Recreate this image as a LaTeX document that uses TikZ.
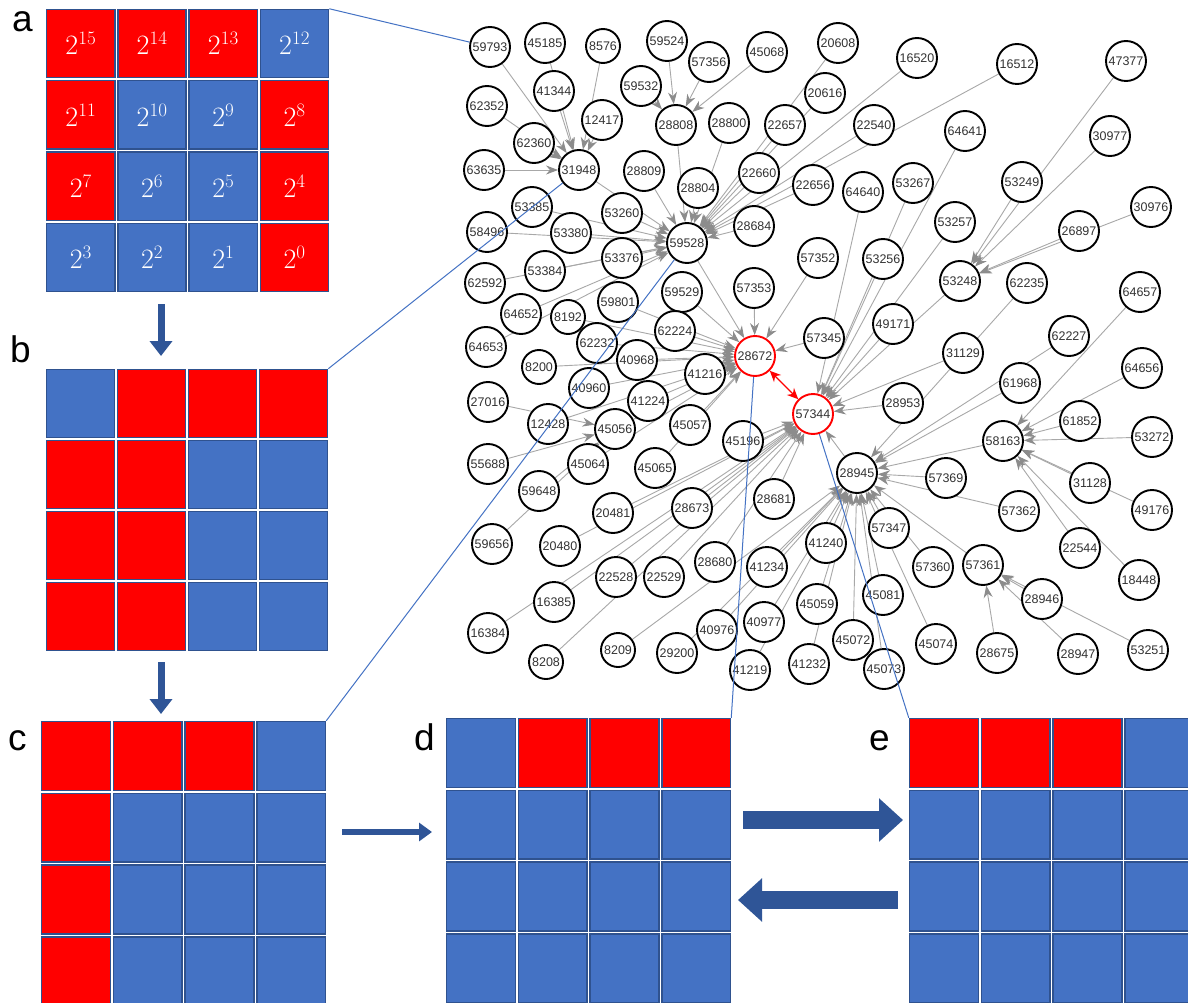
\documentclass[tikz,border=0pt]{standalone}
\usepackage{fontspec}
\newfontfamily\nf{Liberation Sans}
\usetikzlibrary{arrows.meta,backgrounds}
\definecolor{cR}{HTML}{FF0000}
\definecolor{cB}{HTML}{4472C4}
\definecolor{cellb}{HTML}{2F528F}
\definecolor{arrb}{HTML}{2F5597}
\definecolor{edgec}{HTML}{A8A8A8}
\definecolor{tipc}{HTML}{8C8C8C}
\definecolor{linkc}{HTML}{4472C4}
\newcommand\pw[1]{2\raisebox{10pt}{\fontsize{19}{19}\selectfont #1}}
\newcommand\cellgrid[5]{%
  \pgfmathsetmacro\cs{#4-3}%
  \foreach \clr/\txt [count=\k from 0] in {#5} {%
    \pgfmathsetmacro\cx{#2+#4*(mod(\k,4)+0.5)}%
    \pgfmathsetmacro\cy{#3+#4*(floor(\k/4)+0.5)}%
    \node[cell, fill=\clr, minimum size=\cs pt] (#1\k) at (\cx,\cy) {\txt};
  }}
\begin{document}
\begin{tikzpicture}[x=1pt,y=-1pt,
  gn/.style={circle, draw=black, line width=1.9pt, fill=white, minimum size=40pt, inner sep=0pt, font=\nf\fontsize{12.5}{14}\selectfont, text=black!80},
  sn/.style={gn, minimum size=34pt},
  rn/.style={gn, draw=red},
  edge/.style={draw=edgec, line width=0.9pt, -{Stealth[length=12pt,width=9pt,color=tipc]}},
  link/.style={draw=linkc, line width=1pt},
  bigarrow/.style={draw=arrb, line width=7pt, -{Triangle[length=15pt,width=22pt]}},
  fatarrow/.style={draw=arrb, line width=18pt, -{Triangle[length=24pt,width=42pt]}},
  cell/.style={rectangle, draw=cellb, line width=1.5pt, inner sep=0pt, text=white, font=\fontsize{28}{28}\selectfont},
  lbl/.style={font=\nf\fontsize{37}{37}\selectfont, anchor=base west, inner sep=0pt}]
\useasboundingbox (0,0) rectangle (1188,1003);
\clip (0,0) rectangle (1188,1003);

% ---------- grids ----------
\cellgrid{a}{45}{8}{71.25}{cR/\pw{15},cR/\pw{14},cR/\pw{13},cB/\pw{12},cR/\pw{11},cB/\pw{10},cB/\pw{9},cR/\pw{8},cR/\pw{7},cB/\pw{6},cB/\pw{5},cR/\pw{4},cB/\pw{3},cB/\pw{2},cB/\pw{1},cR/\pw{0}}
\cellgrid{b}{45}{368}{71}{cB/{},cR/{},cR/{},cR/{},cR/{},cR/{},cB/{},cB/{},cR/{},cR/{},cB/{},cB/{},cR/{},cR/{},cB/{},cB/{}}
\cellgrid{c}{40}{720}{71.75}{cR/{},cR/{},cR/{},cB/{},cR/{},cB/{},cB/{},cB/{},cR/{},cB/{},cB/{},cB/{},cR/{},cB/{},cB/{},cB/{}}
\cellgrid{d}{445}{717}{71.75}{cB/{},cR/{},cR/{},cR/{},cB/{},cB/{},cB/{},cB/{},cB/{},cB/{},cB/{},cB/{},cB/{},cB/{},cB/{},cB/{}}
\cellgrid{e}{908}{717}{71.75}{cR/{},cR/{},cR/{},cB/{},cB/{},cB/{},cB/{},cB/{},cB/{},cB/{},cB/{},cB/{},cB/{},cB/{},cB/{},cB/{}}

\node[lbl] (la) at (12,32) {a};
\node[lbl] (lb) at (10,362) {b};
\node[lbl] (lc) at (8,750) {c};
\node[lbl] (ld) at (414,750) {d};
\node[lbl] (le) at (869,750) {e};

% ---------- arrows between grids ----------
\coordinate (ab1) at (161,304); \coordinate (ab2) at (161,356);
\coordinate (bc1) at (161,662); \coordinate (bc2) at (161,714);
\coordinate (cd1) at (342,832); \coordinate (cd2) at (432,832);
\coordinate (de1) at (743,820); \coordinate (de2) at (903,820);
\coordinate (ed1) at (898,900); \coordinate (ed2) at (738,900);
\draw[bigarrow] (ab1) -- (ab2);
\draw[bigarrow] (bc1) -- (bc2);
\draw[draw=arrb, line width=6pt, -{Triangle[length=13pt,width=18pt]}] (cd1) -- (cd2);
\draw[fatarrow] (de1) -- (de2);
\draw[fatarrow] (ed1) -- (ed2);

% ---------- graph nodes ----------
\foreach \n/\x/\y in {
59793/490/47, 45185/545/43, 59524/667/41, 57356/709/62, 45068/767/52, 20608/838/43,
16520/917/58, 16512/1017/64, 47377/1126/61, 62352/487/106, 41344/554/91, 12417/602/120,
59532/641/86, 28808/676/125, 28800/729/123, 22657/785/125, 20616/825/93, 22540/874/125,
64641/965/131, 30977/1110/136, 62360/534/143, 63635/484/170, 31948/579/170, 28809/644/171,
28804/698/188, 22660/759/173, 22656/813/185, 64640/863/192, 53267/913/183, 53249/1022/182,
30976/1151/207, 53385/532/207, 53260/622/213, 53380/571/233, 58496/487/232, 28684/754/226,
59528/687/243, 53257/955/222, 26897/1079/231, 53376/622/258, 57352/818/258, 53256/883/259,
53384/545/271, 62592/485/283, 53248/960/281, 62235/1027/283, 57353/754/288, 59529/682/292,
64657/1140/292, 59801/618/302, 64652/521/314, 49171/893/324, 62224/675/331, 57345/824/338,
62227/1069/336, 62232/597/343, 64653/486/347, 31129/963/353, 40968/637/360, 64656/1142/368,
41216/705/374, 61968/1020/383, 40960/589/388, 27016/488/402, 41224/648/401, 28953/903/403,
61852/1080/421, 12428/548/424, 45057/690/425, 45056/615/429, 58163/1003/441, 53272/1152/437,
45196/743/441, 55688/488/464, 45064/588/464, 45065/655/468, 28945/857/473, 57369/946/478,
31128/1090/483, 59648/539/491, 28681/774/499, 28673/692/508, 20481/613/513, 57362/1019/511,
49176/1152/510, 57347/889/528, 41240/826/543, 59656/492/544, 20480/560/546, 22544/1080/548,
28680/715/562, 41234/767/567, 57360/933/567, 57361/983/565, 22528/616/577, 22529/664/577,
18448/1139/580, 45081/883/595, 28946/1042/599, 16385/554/602, 45059/817/604, 40977/764/622,
40976/717/630, 16384/488/633, 45072/853/640, 45074/936/644, 53251/1148/650, 29200/677/653,
28675/997/653, 28947/1078/654, 41232/809/664, 41219/750/670, 45073/884/669}
  \node[gn] (n\n) at (\x,\y) {\n};
\foreach \n/\x/\y in {8576/603/46, 8192/568/317, 8200/539/367, 8208/546/662, 8209/618/650}
  \node[sn] (n\n) at (\x,\y) {\n};
\node[rn] (n28672) at (755,356) {28672};
\node[rn] (n57344) at (813,414) {57344};

% ---------- graph edges ----------
\begin{pgfonlayer}{background}
\fill[white] (0,0) rectangle (1188,1003);
\foreach \s in {59793,45185,8576,41344,12417,62352,62360,63635} \draw[edge] (n\s) -- (n31948);
\foreach \s in {59524,59532,57356,45068} \draw[edge] (n\s) -- (n28808);
\foreach \s in {31948,28808,28800,28809,28804,22660,22657,20608,20616,22540,16520,16512,22656,28684,53260,53385,53380,58496,53376,53384,62592,64652,64653} \draw[edge] (n\s) -- (n59528);
\foreach \s in {59528,57353,57352,57345,59529,62224,59801,8192,62232,40968,41216,40960,8200,41224,45057,45065,45056,12428,45064} \draw[edge] (n\s) -- (n28672);
\foreach \s in {27016,55688,59648,59656} \draw[edge] (n\s) -- (n45056);
\foreach \s in {53249,47377,30977,26897,30976} \draw[edge] (n\s) -- (n53248);
\foreach \s in {53248,53257,53267,64640,64641,53256,49171,31129,28953,28945,28673,28681,20481,20480,16385,16384,22528,22529,28680,8208,45196} \draw[edge] (n\s) -- (n57344);
\foreach \s in {64657,64656,61852,53272,31128,49176,22544,18448} \draw[edge] (n\s) -- (n58163);
\foreach \s in {58163,62235,62227,61968,57369,57362,57347,57360,45081,45072,45073,45074,41232,45059,41240,41234,40977,40976,41219,8209,29200,57361} \draw[edge] (n\s) -- (n28945);
\foreach \s in {28946,28947,28675,53251} \draw[edge] (n\s) -- (n57361);
\end{pgfonlayer}
\draw[red, line width=1.2pt, {Stealth[length=11pt,width=10pt]}-{Stealth[length=11pt,width=10pt]}] (n28672) -- (n57344);

% ---------- blue link lines ----------
\draw[link] (a3.north east) -- (n59793);
\draw[link] (b3.north east) -- (n31948);
\draw[link] (c3.north east) -- (n59528);
\draw[link] (d3.north east) -- (n28672);
\draw[link] (e0.north west) -- (n57344);
\end{tikzpicture}
\end{document}
